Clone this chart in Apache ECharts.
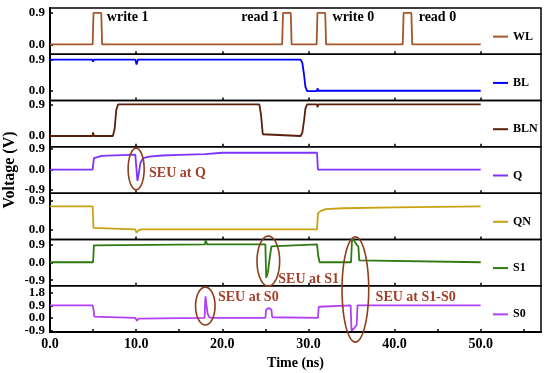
<!DOCTYPE html>
<html><head><meta charset="utf-8">
<script src="https://cdn.jsdelivr.net/npm/echarts@6/dist/echarts.min.js"></script>
<style>html,body{margin:0;padding:0;background:#fff}#c{width:550px;height:373px}</style>
</head><body><div id="c"></div>
<script>
// ---- data (time in ns, voltage in V) ----
const names = ['WL','BL','BLN','Q','QN','S1','S0'];
const WL = [[0,0],[4.95,0],[5.05,0.9],[5.95,0.9],[6.05,0],[26.95,0],[27.05,0.9],[27.95,0.9],[28.05,0],[30.95,0],[31.05,0.9],[31.95,0.9],[32.05,0],[40.95,0],[41.05,0.9],[41.95,0.9],[42.05,0],[50,0]];
const BL = [[0,0.9],[4.9,0.9],[5.0,0.84],[5.1,0.9],[9.9,0.9],[10.05,0.76],[10.2,0.9],[29.1,0.9],[29.3,0.8],[29.5,0.45],[29.65,0.12],[29.85,0.0],[31.0,0.0],[31.05,0.08],[31.15,0.01],[50,0.01]];
const BLN = [[0,0],[4.95,0],[5.0,0.1],[5.1,0],[7.3,0],[7.5,0.2],[7.7,0.75],[7.9,0.9],[24.3,0.9],[24.5,0.6],[24.7,0.05],[24.8,0],[29.1,0],[29.3,0.1],[29.5,0.45],[29.65,0.78],[29.85,0.9],[31.0,0.9],[31.05,0.82],[31.15,0.9],[50,0.9]];
const Q = [[0,0],[4.95,0],[5.1,0.5],[5.3,0.58],[6,0.6],[9.9,0.66],[10.0,0.2],[10.15,-0.5],[10.3,-0.2],[10.5,0.3],[10.8,0.5],[11.5,0.57],[13,0.62],[15,0.65],[18.0,0.68],[18.1,0.74],[20,0.74],[25,0.74],[31,0.74],[31.1,0],[50,0]];
const QN = [[0,0.72],[4.95,0.72],[5.05,0.05],[5.2,0],[9.9,0],[10.05,-0.1],[10.3,-0.02],[10.6,0],[18.0,0],[18.05,0.03],[18.15,0],[31.0,0],[31.1,0.5],[31.4,0.57],[32,0.63],[34,0.66],[40,0.69],[50,0.72]];
const S1 = [[0,0],[5.0,0],[5.1,0.85],[5.2,0.9],[18.0,0.9],[18.05,1.12],[18.2,1.12],[18.25,0.9],[25.0,0.9],[25.1,-0.78],[25.3,-0.5],[25.5,0.2],[25.7,0.8],[25.9,0.9],[31.0,0.9],[31.15,0.3],[31.3,0],[34.95,0],[35.05,1.05],[35.15,1.2],[35.5,0.95],[35.8,0.78],[35.9,0.1],[36.0,0],[50,0]];
const S0 = [[0,0.9],[4.95,0.9],[5.05,0.6],[5.15,0.1],[5.3,0],[9.9,0],[10.1,-0.2],[10.3,-0.05],[10.5,0],[17.95,0],[18.0,1.0],[18.05,1.55],[18.15,1.0],[18.3,0.3],[18.5,0.05],[18.8,0],[25.0,0],[25.1,0.6],[25.2,0.72],[25.4,0.7],[25.7,0.6],[25.8,0.05],[25.9,0],[31.1,0],[31.2,0.8],[31.3,0.9],[34.9,0.9],[35.0,-0.86],[35.3,-0.75],[35.6,-0.48],[35.7,0.9],[50,0.9]];
const seriesData = [WL, BL, BLN, Q, QN, S1, S0];
const colors = ['#A5562A','#0000FF','#5A1E0A','#7E33FF','#C9A212','#2F7A10','#B040F5'];

const yRanges = [[-0.28,1.04],[-0.27,1.05],[-0.31,1.01],[-1.04,1.0],[-0.31,1.13],[-1.18,1.15],[-1.0,2.3]];
const yTickValues = [[0,0.9],[0,0.9],[0,0.9],[-0.9,0,0.9],[0,0.9],[-0.9,0,0.9],[-0.9,0,0.9,1.8]];
const xRange = [0, 57];
const xLabelValues = [0,10,20,30,40,50];
const xTickValuesBottom = [5,10,15,20,25,30,35,40,45,50,55];
const xTickValuesInner = [10,20,30,40,50];

// annotations: [panel, t, v, text]
const labelTexts = [
  [0, 6.6, 0.78, 'write 1'],
  [0, 22.2, 0.78, 'read 1'],
  [0, 32.8, 0.78, 'write 0'],
  [0, 42.8, 0.78, 'read 0']
];
const seuTexts = [
  [3, 11.5, -0.19, 'SEU at Q'],
  [5, 26.5, -0.84, 'SEU at S1'],
  [6, 19.5, 1.44, 'SEU at S0'],
  [6, 37.8, 1.49, 'SEU at S1-S0']
];
// ellipses as bounding boxes in panel data coords: [panel, t1, v1, t2, v2]
const ellipses = [
  [3, 9.07, 0.94, 10.93, -0.89],
  [5, 24.03, 1.32, 26.66, -1.2],
  [6, 16.9, 2.2, 19.16, -0.5],
  [6, 33.9, 5.79, 37.0, -1.72]
];

// ---- chart ----
const FONT = "'Liberation Serif','Times New Roman',serif";
const chart = echarts.init(document.getElementById('c'), null, {renderer:'canvas'});
const top0 = 8, bottom0 = 332, n = 7, ph = (bottom0 - top0) / n;
const grids = [], xAxes = [], yAxes = [], series = [], legends = [];
for (let i = 0; i < n; i++) {
  const last = i === n - 1;
  grids.push({left: 50, right: 9, top: top0 + i * ph, height: ph, show: true, borderColor: '#000', borderWidth: 1.5, backgroundColor: 'transparent', containLabel: false, outerBoundsMode: 'none'});
  xAxes.push({
    type: 'value', gridIndex: i, min: xRange[0], max: xRange[1],
    axisLine: {show: last, onZero: false, lineStyle: {color: '#000', width: 2}},
    axisTick: {show: true, inside: true, length: 3, customValues: last ? xTickValuesBottom : xTickValuesInner, lineStyle: {color: '#000', width: 1.5}},
    axisLabel: {show: last, customValues: xLabelValues, hideOverlap: false, formatter: v => v.toFixed(1), color: '#000', fontFamily: FONT, fontWeight: 'bold', fontSize: 14, margin: 5},
    splitLine: {show: false},
    name: last ? 'Time (ns)' : '', nameLocation: 'middle', nameGap: 24, nameMoveOverlap: false,
    nameTextStyle: {color: '#000', fontFamily: FONT, fontWeight: 'bold', fontSize: 14, verticalAlign: 'top'}
  });
  yAxes.push({
    type: 'value', gridIndex: i, min: yRanges[i][0], max: yRanges[i][1], position: 'left',
    axisLine: {show: true, onZero: false, lineStyle: {color: '#000', width: 2}},
    axisTick: {show: true, inside: true, length: 3, customValues: yTickValues[i], lineStyle: {color: '#000', width: 1.5}},
    axisLabel: {show: false},
    splitLine: {show: false},
    name: i === 3 ? 'Voltage (V)' : '', nameLocation: 'middle', nameGap: 32, nameMoveOverlap: false,
    nameTextStyle: {color: '#000', fontFamily: FONT, fontWeight: 'bold', fontSize: 16}
  });
  series.push({
    name: names[i], type: 'line', xAxisIndex: i, yAxisIndex: i, data: seriesData[i],
    symbol: 'none', showSymbol: false, color: colors[i],
    lineStyle: {color: colors[i], width: 1.8}, animation: false
  });
  legends.push({
    data: [names[i]], left: 488, top: top0 + i * ph + ph / 2 + 1.5 - 7,
    itemWidth: 15, itemHeight: 14, icon: 'path://M0,6 L15,6 L15,8 L0,8 Z',
    textStyle: {color: '#000', fontFamily: FONT, fontWeight: 'bold', fontSize: 12},
    selectedMode: false
  });
}
chart.setOption({
  animation: false, backgroundColor: '#fff',
  grid: grids, xAxis: xAxes, yAxis: yAxes, series: series, legend: legends
});

const graphics = [];
// y tick labels, placed through each panel's y scale (closely stacked panels, so drawn without overlap culling)
yTickValues.forEach((vals, g) => {
  vals.forEach(v => {
    const p = chart.convertToPixel({xAxisIndex: g, yAxisIndex: g}, [xRange[0], v]);
    graphics.push({type: 'text', x: p[0] - 5, y: p[1], z: 50, style: {text: v.toFixed(1), fill: '#000', font: "bold 13px " + FONT, verticalAlign: 'middle', align: 'right'}});
  });
});
labelTexts.forEach(([g, t, v, s]) => {
  const p = chart.convertToPixel({xAxisIndex: g, yAxisIndex: g}, [t, v]);
  graphics.push({type: 'text', x: p[0], y: p[1], style: {text: s, fill: '#000', font: "bold 14px " + FONT, verticalAlign: 'middle', align: 'left'}});
});
seuTexts.forEach(([g, t, v, s]) => {
  const p = chart.convertToPixel({xAxisIndex: g, yAxisIndex: g}, [t, v]);
  graphics.push({type: 'text', x: p[0], y: p[1], style: {text: s, fill: '#A3402A', font: "bold 14px " + FONT, verticalAlign: 'middle', align: 'left'}});
});
ellipses.forEach(([g, t1, v1, t2, v2]) => {
  const a = chart.convertToPixel({xAxisIndex: g, yAxisIndex: g}, [t1, v1]);
  const b = chart.convertToPixel({xAxisIndex: g, yAxisIndex: g}, [t2, v2]);
  const cx = (a[0] + b[0]) / 2, cy = (a[1] + b[1]) / 2, rx = Math.abs(b[0] - a[0]) / 2, ry = Math.abs(b[1] - a[1]) / 2;
  const pts = [];
  for (let k = 0; k < 72; k++) { const th = 2 * Math.PI * k / 72; pts.push([cx + rx * Math.cos(th), cy + ry * Math.sin(th)]); }
  graphics.push({type: 'polygon', shape: {points: pts}, style: {fill: 'none', stroke: '#8E3E1C', lineWidth: 1.6}, z: 100});
});
chart.setOption({graphic: graphics});
</script></body></html>
